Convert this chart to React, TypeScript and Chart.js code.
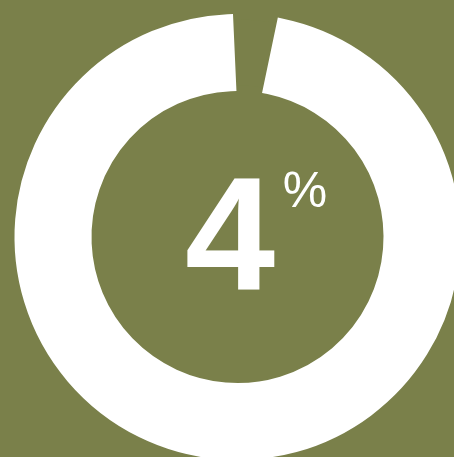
import React, { useEffect, useRef } from "react";
import { Chart, registerables } from "chart.js";

Chart.register(...registerables);

// Data
const categories = ["Remaining gap", "Ring"];
const values = [4, 96];
const valueLabel = "4";
const unitLabel = "%";

// Styles
const BG = "#7a804a";
const RING = "#ffffff";
const OUTER_R = 217.5;
const INNER_R = 151.5;

export default function App() {
  const ref = useRef<HTMLCanvasElement>(null);

  useEffect(() => {
    document.body.style.margin = "0";
    const canvas = ref.current;
    if (!canvas) return;

    const centerText = {
      id: "centerText",
      afterDraw(chart: any) {
        const arc = chart.getDatasetMeta(0).data[0] as any;
        if (!arc) return;
        const cx = arc.x;
        const cy = arc.y;
        const ctx = chart.ctx;
        ctx.save();
        ctx.fillStyle = "#ffffff";
        ctx.textAlign = "center";
        ctx.textBaseline = "alphabetic";
        ctx.font = "bold 162px 'Liberation Sans', Arial, sans-serif";
        ctx.fillText(valueLabel, cx - 7.5, cy + 52.5);
        ctx.font = "50px 'Liberation Sans', Arial, sans-serif";
        ctx.fillText(unitLabel, cx + 67.5, cy - 30.5);
        ctx.restore();
      },
    };

    const chart = new Chart(canvas, {
      type: "doughnut",
      data: {
        labels: categories,
        datasets: [
          {
            data: values,
            backgroundColor: [BG, RING],
            borderColor: [BG, RING],
            borderWidth: [0, 11],
            borderJoinStyle: "miter",
            borderAlign: "center",
          } as any,
        ],
      },
      options: {
        responsive: false,
        maintainAspectRatio: false,
        animation: false,
        events: [],
        rotation: -2.57,
        radius: OUTER_R,
        cutout: `${(INNER_R / OUTER_R) * 100}%`,
        layout: { padding: 0 },
        plugins: {
          legend: { display: false },
          tooltip: { enabled: false },
        },
      } as any,
      plugins: [centerText],
    });

    return () => chart.destroy();
  }, []);

  return (
    <div
      style={{
        position: "fixed",
        left: 0,
        top: 0,
        width: 454,
        height: 457,
        overflow: "hidden",
        background: BG,
      }}
    >
      <canvas
        ref={ref}
        width={475}
        height={474}
        style={{ position: "absolute", left: 0, top: 0, width: 475, height: 474 }}
      />
    </div>
  );
}
